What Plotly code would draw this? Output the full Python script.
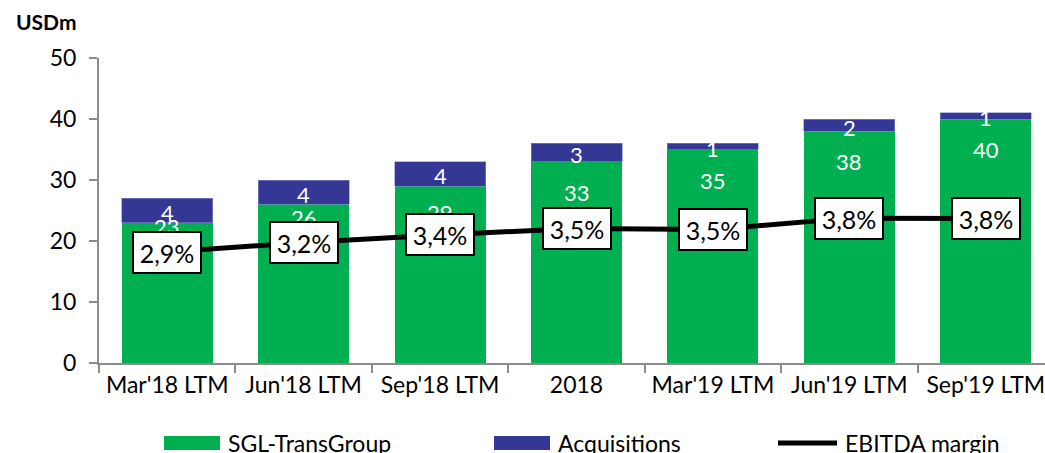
import plotly.graph_objects as go

categories = ["Mar'18 LTM", "Jun'18 LTM", "Sep'18 LTM", "2018", "Mar'19 LTM", "Jun'19 LTM", "Sep'19 LTM"]
sgl_values = [23, 26, 29, 33, 35, 38, 40]
acq_values = [4, 4, 4, 3, 1, 2, 1]
ebitda_margin = [2.91, 3.16, 3.36, 3.53, 3.50, 3.80, 3.79]
y_ticks = [0, 10, 20, 30, 40, 50]

# label placement (style): depth of the green label below the green top, in axis units
sgl_label_depth = [0.7, 2.1, 4.4, 5.0, 5.0, 5.0, 5.0]

FONT = "Lato"
GREEN = "#00B050"
BLUE = "#353795"

fig = go.Figure()
fig.add_trace(go.Bar(x=categories, y=sgl_values, name="SGL-TransGroup",
                     marker=dict(color=GREEN, line=dict(width=0)), showlegend=False))
fig.add_trace(go.Bar(x=categories, y=acq_values, name="Acquisitions",
                     marker=dict(color=BLUE, line=dict(color="#8a8cd0", width=0.6)), showlegend=False))
fig.add_trace(go.Scatter(x=categories, y=ebitda_margin, name="EBITDA margin", yaxis="y2",
                         mode="lines", line=dict(color="black", width=5), showlegend=False))

ann = []
for i, (s, a, d) in enumerate(zip(sgl_values, acq_values, sgl_label_depth)):
    ann.append(dict(x=i, y=s - d, xref="x", yref="y", text=str(s), showarrow=False,
                    font=dict(family=FONT, size=22, color="white")))
    ann.append(dict(x=i, y=s + a / 2, xref="x", yref="y", text=str(a), showarrow=False,
                    yshift=-2, font=dict(family=FONT, size=22, color="white")))
for i, m in enumerate(ebitda_margin):
    ann.append(dict(x=i, y=m, xref="x", yref="y2", text=f"{m:.1f}%".replace(".", ","),
                    showarrow=False, bgcolor="white", bordercolor="black", borderwidth=2,
                    borderpad=1, width=64, height=37,
                    font=dict(family=FONT, size=25, color="black")))

# custom legend / title positions in pixels converted to paper coords
W, H = 946.0, 305.0
def px(xp):
    return (xp - 99) / W
def py(yp):
    return (363 - yp) / H

ann.append(dict(x=px(14), y=py(22), xref="paper", yref="paper", text="<b>USDm</b>",
                showarrow=False, xanchor="left", yanchor="middle",
                font=dict(family=FONT, size=21, color="black")))

shapes = []
legend_items = [("SGL-TransGroup", GREEN, "bar", 164, 220, 226),
                ("Acquisitions", BLUE, "bar", 494, 550, 556),
                ("EBITDA margin", "black", "line", 778, 837, 843)]
for name, col, kind, x0, x1, xt in legend_items:
    if kind == "bar":
        shapes.append(dict(type="rect", xref="paper", yref="paper", x0=px(x0), x1=px(x1),
                           y0=py(450), y1=py(436), fillcolor=col, line=dict(width=0)))
    else:
        shapes.append(dict(type="line", xref="paper", yref="paper", x0=px(x0), x1=px(x1),
                           y0=py(443), y1=py(443), line=dict(color=col, width=5)))
    ann.append(dict(x=px(xt), y=py(443), xref="paper", yref="paper", text=name, showarrow=False,
                    xanchor="left", yanchor="middle", font=dict(family=FONT, size=23, color="black")))

fig.update_layout(
    width=1045, height=453,
    margin=dict(l=99, r=0, t=58, b=90, autoexpand=False),
    paper_bgcolor="white", plot_bgcolor="white",
    barmode="stack", bargap=0.333,
    font=dict(family=FONT, size=20, color="black"),
    xaxis=dict(type="category", range=[-0.5, 6.5 - 9 / 136.4], showgrid=False, automargin=False,
               showline=True, linecolor="#8c8c8c", linewidth=2,
               ticks="outside", tickson="boundaries", ticklen=8, tickcolor="#8c8c8c", tickwidth=2,
               tickfont=dict(family=FONT, size=23, color="black")),
    yaxis=dict(range=[0, 50], tickvals=y_ticks, showgrid=False, zeroline=False, automargin=False,
               showline=True, linecolor="#8c8c8c", linewidth=2,
               ticks="outside", ticklen=8, tickcolor="#8c8c8c", tickwidth=2,
               ticklabelstandoff=8,
               tickfont=dict(family=FONT, size=23, color="black")),
    yaxis2=dict(range=[0, 8], overlaying="y", visible=False),
    annotations=ann, shapes=shapes,
)

fig.write_html("out.html", config={"displayModeBar": False},
               post_script="document.body.style.margin='0px';document.body.style.overflow='hidden';")
